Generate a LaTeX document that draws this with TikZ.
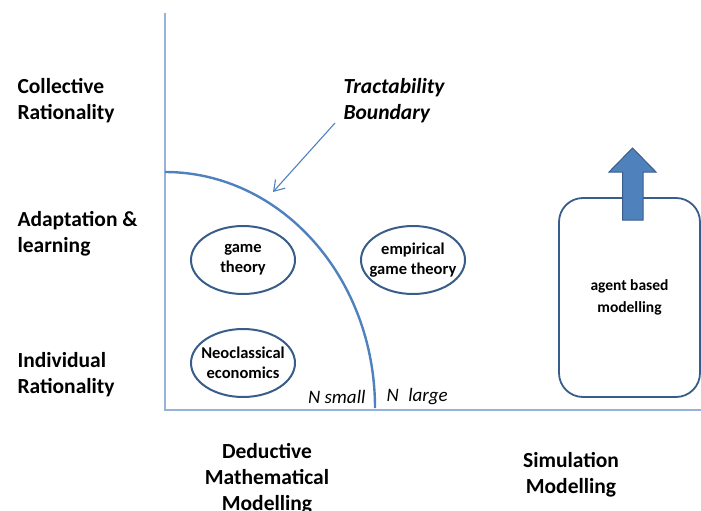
\documentclass[tikz,border=0pt]{standalone}
\usepackage{fontspec}
\setmainfont{Carlito}
\usetikzlibrary{arrows.meta,shapes.geometric}
\definecolor{axisblue}{RGB}{149,179,215}
\definecolor{lineblue}{RGB}{79,129,189}
\definecolor{darkblue}{RGB}{56,93,138}
\tikzset{
  axisline/.style={draw=axisblue, line width=2pt},
  boundary/.style={draw=lineblue, line width=2.4pt},
  pointer/.style={draw=lineblue, line width=1.1pt, -{Straight Barb[length=10pt,width=13pt,line width=1.1pt]}},
  method/.style={ellipse, draw=darkblue, line width=2pt, minimum width=104pt, minimum height=68pt,
    inner sep=-20pt, align=center, font=\bfseries\fontsize{16.5}{20}\selectfont},
  levellabel/.style={anchor=west, align=left, font=\bfseries\fontsize{21.5}{26}\selectfont},
  approach/.style={align=center, font=\bfseries\fontsize{21.5}{26}\selectfont},
  nlabel/.style={font=\itshape\fontsize{19}{22}\selectfont},
}
\begin{document}
\begin{tikzpicture}[x=1pt,y=-1pt]
  \useasboundingbox (0,0) rectangle (701,511);
  \clip (0,0) rectangle (701,511);

  % axes
  \coordinate (top) at (165,13);
  \coordinate (origin) at (165,410);
  \coordinate (right) at (701,410);
  \draw[axisline] (top) -- (origin) -- (right);

  % tractability boundary: a quarter ellipse around the origin
  \coordinate (bstart) at (165,172);
  \draw[boundary] (bstart) arc[start angle=90, end angle=0, x radius=210, y radius=-236];

  % row labels
  \node[levellabel] (collective) at (14,101) {Collective\\Rationality};
  \node[levellabel] (adaptation) at (14,234) {Adaptation \&\\learning};
  \node[levellabel] (individual) at (14,375) {Individual\\Rationality};

  % column labels
  \node[approach] (deductive) at (267,479) {Deductive\\Mathematical\\Modelling};
  \node[approach] (simulation) at (571,475) {Simulation\\Modelling};

  % boundary label and its pointer
  \node[levellabel, font=\bfseries\itshape\fontsize{21.5}{26}\selectfont] (tract) at (340,101) {Tractability\\Boundary};
  \coordinate (ptrfrom) at (335,123);
  \coordinate (ptrto) at (273,192);
  \draw[pointer] (ptrfrom) -- (ptrto);

  % methods
  \node[method] (game) at (243,260) {game\\theory};
  \node[method] (empirical) at (413,260) {empirical\\game theory};
  \node[method] (neo) at (243,363) {Neoclassical\\economics};

  % N small / N large
  \node[nlabel, anchor=east] (nsmall) at (369,397) {N small};
  \node[nlabel, anchor=west] (nlarge) at (383,397) {N\enspace large};

  % agent based modelling box with upward block arrow
  \node[draw=darkblue, line width=1.8pt, rounded corners=24pt, minimum width=141pt, minimum height=199pt,
        align=center, font=\bfseries\fontsize{15.5}{22}\selectfont] (abm) at (629.5,297.5) {agent based\\modelling};
  \draw[fill=lineblue, draw=darkblue, line width=1pt]
    (622.5,220) -- (643,220) -- (643,172) -- (656,172) -- (632.5,148) -- (609,172) -- (622.5,172) -- cycle;
\end{tikzpicture}
\end{document}
